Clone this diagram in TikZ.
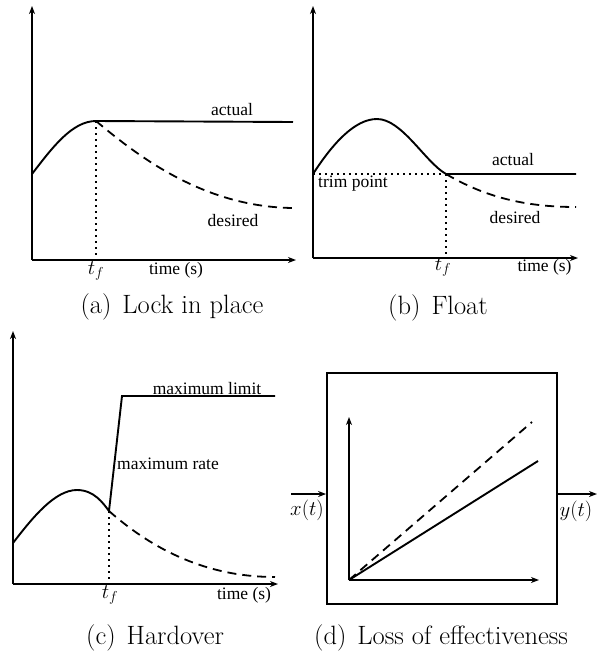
\documentclass[tikz,border=0pt]{standalone}
\usepackage{fontspec}
\newfontfamily\tms{Liberation Serif}
\usetikzlibrary{arrows.meta}
\begin{document}
\begin{tikzpicture}[x=1pt,y=-1pt,
  axis/.style={line width=1.8pt,-{Stealth[length=8pt,width=6pt,inset=2.5pt]}},
  curve/.style={line width=1.9pt},
  desired/.style={line width=1.8pt,dash pattern=on 9pt off 6pt},
  guide/.style={line width=1.6pt,dash pattern=on 1.6pt off 4.4pt},
  lbl/.style={font=\tms\fontsize{17.5}{20}\selectfont,inner sep=0pt},
  mlbl/.style={font=\fontsize{21}{25}\selectfont,inner sep=0pt},
  captext/.style={font=\fontsize{26.5}{30}\selectfont,inner sep=0pt}]
\useasboundingbox (0,0) rectangle (597,654);
% ---------- (a) ----------
\coordinate (aO) at (32,260);
\coordinate (aY) at (32,6);
\coordinate (aX) at (296,260);
\coordinate (aS) at (32,174);
\coordinate (aF) at (96,121);
\coordinate (aE) at (293,122);
\coordinate (aD) at (293,208);
\draw[axis] (aO) -- (aY);
\draw[axis] (aO) -- (aX);
\draw[curve] (aS) .. controls (52,148) and (72,121) .. (aF) -- (aE);
\draw[guide] (aF) -- (aF |- aO);
\draw[desired] (aF) .. controls (140,158) and (205,207) .. (aD);
\node[lbl] (aact) at (232,110) {actual};
\node[lbl] (ades) at (233,221) {desired};
\node[mlbl] (atf) at (96,271) {$t_f$};
\node[lbl] (atime) at (176,270) {time (s)};
\node[captext] (acap) at (172,307) {(a)\hspace{3pt} Lock in place};
% ---------- (b) ----------
\coordinate (bO) at (313,258);
\coordinate (bY) at (313,6);
\coordinate (bX) at (578,258);
\coordinate (bS) at (313,174);
\coordinate (bP) at (377,119);
\coordinate (bF) at (446,174);
\coordinate (bE) at (576,174);
\coordinate (bD) at (576,207);
\draw[axis] (bO) -- (bY);
\draw[axis] (bO) -- (bX);
\draw[curve] (bS) .. controls (333,143) and (355,119) .. (bP) .. controls (402,119) and (425,162) .. (bF) -- (bE);
\draw[guide] (bS) -- (bF);
\draw[guide] (bF) -- (bF |- bO);
\draw[desired] (bF) .. controls (485,197) and (525,207) .. (bD);
\node[lbl] (bact) at (513,160) {actual};
\node[lbl] (btrim) at (353,184) {trim point};
\node[lbl] (bdes) at (515,218) {desired};
\node[mlbl] (btf) at (443,267) {$t_f$};
\node[lbl] (btime) at (544.5,267) {time (s)};
\node[captext] (bcap) at (438,308) {(b)\hspace{3pt} Float};
% ---------- (c) ----------
\coordinate (cO) at (13,584);
\coordinate (cY) at (13,331);
\coordinate (cX) at (278,584);
\coordinate (cS) at (13,543);
\coordinate (cP) at (77,490);
\coordinate (cF) at (109,511);
\coordinate (cR) at (122,396);
\coordinate (cE) at (275,396);
\coordinate (cD) at (275,577);
\draw[axis] (cO) -- (cY);
\draw[axis] (cO) -- (cX);
\draw[curve] (cS) .. controls (33,517) and (55,490) .. (cP) .. controls (94,490) and (103,503) .. (cF) -- (cR) -- (cE);
\draw[guide] (cF) -- (cF |- cO);
\draw[desired] (cF) .. controls (160,556) and (215,577) .. (cD);
\node[lbl] (clim) at (207,389) {maximum limit};
\node[lbl] (crate) at (168,464) {maximum rate};
\node[mlbl] (ctf) at (110,595) {$t_f$};
\node[lbl] (ctime) at (244,595) {time (s)};
\node[captext] (ccap) at (155,638) {(c)\hspace{3pt} Hardover};
% ---------- (d) ----------
\node[draw,line width=1.8pt,minimum width=230pt,minimum height=231pt,inner sep=0pt] (box) at (442,488.5) {};
\coordinate (dO) at (349,580);
\coordinate (dY) at (349,417);
\coordinate (dX) at (539,580);
\coordinate (dA) at (538,461);
\coordinate (dB) at (532,422);
\coordinate (din) at (291,494);
\coordinate (dout) at (597,494);
\draw[axis] (dO) -- (dY);
\draw[axis] (dO) -- (dX);
\draw[curve] (dO) -- (dA);
\draw[desired] (dO) -- (dB);
\draw[axis] (din) -- (din -| box.west);
\draw[axis] (box.east |- dout) -- (dout);
\node[mlbl] (xt) at (307,510) {$x(t)$};
\node[mlbl] (yt) at (576,511) {$y(t)$};
\node[captext] (dcap) at (441,638) {(d)\hspace{3pt} Loss of effectiveness};
\end{tikzpicture}
\end{document}
